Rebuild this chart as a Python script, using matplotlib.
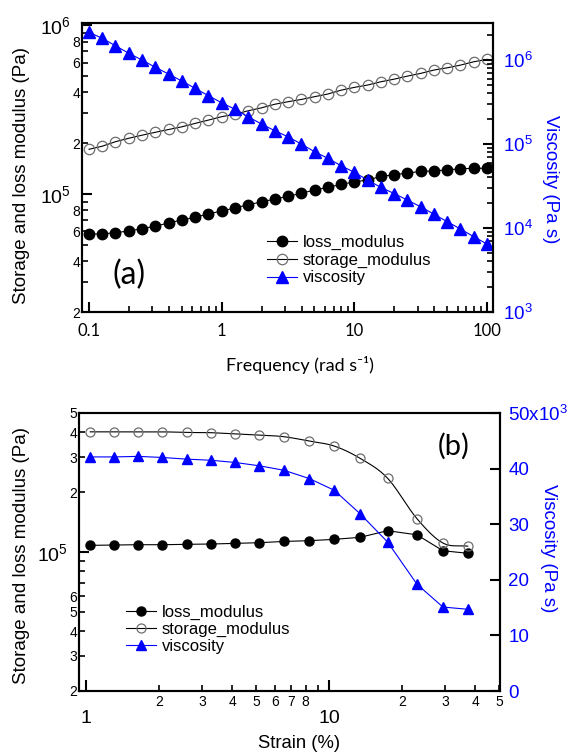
import numpy as np
import matplotlib
matplotlib.use('Agg')
import matplotlib.pyplot as plt

plt.rcParams['font.family'] = ['Liberation Sans', 'DejaVu Sans']
plt.rcParams['mathtext.fontset'] = 'custom'
plt.rcParams['mathtext.rm'] = 'Liberation Sans'
plt.rcParams['mathtext.it'] = 'Liberation Sans:italic'
plt.rcParams['mathtext.bf'] = 'Liberation Sans:bold'

# ---------------- data: panel (a) ----------------
freq = [0.1, 0.126, 0.158, 0.2, 0.251, 0.316, 0.398, 0.501, 0.631, 0.794,
        1.0, 1.26, 1.58, 2.0, 2.51, 3.16, 3.98, 5.01, 6.31, 7.94,
        10.0, 12.6, 15.8, 20.0, 25.1, 31.6, 39.8, 50.1, 63.1, 79.4, 100.0]
loss_a = [58.0e3, 58.0e3, 59.0e3, 60.4e3, 62.3e3, 64.4e3, 67.4e3, 70.2e3, 72.8e3, 76.2e3,
          79.3e3, 82.6e3, 86.4e3, 89.7e3, 93.4e3, 96.8e3, 101e3, 105.6e3, 109.5e3, 114e3,
          118e3, 121e3, 127e3, 130e3, 133e3, 136e3, 137e3, 139e3, 141e3, 142e3, 142e3]
storage_a = [184e3, 192e3, 204e3, 214e3, 223e3, 232e3, 241e3, 250e3, 262e3, 274e3,
             287e3, 297e3, 311e3, 324e3, 340e3, 352e3, 363e3, 377e3, 391e3, 412e3,
             428e3, 442e3, 462e3, 479e3, 499e3, 518e3, 542e3, 559e3, 580e3, 607e3, 627e3]
visc_a = [2.14e6, 1.81e6, 1.48e6, 1.20e6, 1.00e6, 8.19e5, 6.81e5, 5.62e5, 4.60e5, 3.76e5,
          3.10e5, 2.59e5, 2.11e5, 1.73e5, 1.44e5, 1.22e5, 1.00e5, 8.1e4, 6.76e4, 5.52e4,
          4.60e4, 3.73e4, 3.05e4, 2.57e4, 2.15e4, 1.79e4, 1.46e4, 1.19e4, 9.73e3, 7.88e3, 6.45e3]

# ---------------- data: panel (b) ----------------
strain = [1.04, 1.30, 1.64, 2.06, 2.60, 3.27, 4.11, 5.17, 6.52, 8.30,
          10.5, 13.4, 17.4, 23.0, 29.4, 37.2]
loss_b = [108.0e3, 108.4e3, 108.8e3, 108.8e3, 109.3e3, 109.7e3, 110.5e3, 111.4e3, 113.0e3, 114.0e3,
          115.8e3, 118.5e3, 128.0e3, 122.0e3, 101.5e3, 98.5e3]
storage_b = [402e3, 402e3, 402e3, 402e3, 399e3, 398e3, 392e3, 387e3, 380e3, 361e3,
             341e3, 296e3, 235e3, 147e3, 111e3, 107e3]
visc_b = [42.1e3, 42.1e3, 42.2e3, 42.0e3, 41.7e3, 41.5e3, 41.1e3, 40.5e3, 39.7e3, 38.2e3,
          36.1e3, 31.9e3, 26.8e3, 19.2e3, 15.1e3, 14.7e3]

series_names = ['loss_modulus', 'storage_modulus', 'viscosity']

BLUE = '#0000ff'
GREY = '#6e6e6e'
CAL = ['Lato', 'DejaVu Sans']


def catmull_rom_loglog(x, y, n=16):
    P = np.column_stack([np.log10(x), np.log10(y)])
    P = np.vstack([2 * P[0] - P[1], P, 2 * P[-1] - P[-2]])
    t = np.linspace(0, 1, n, endpoint=False)[:, None]
    out = []
    for i in range(1, len(P) - 2):
        p0, p1, p2, p3 = P[i - 1], P[i], P[i + 1], P[i + 2]
        seg = 0.5 * (2 * p1 + (-p0 + p2) * t + (2 * p0 - 5 * p1 + 4 * p2 - p3) * t ** 2
                     + (-p0 + 3 * p1 - 3 * p2 + p3) * t ** 3)
        out.append(seg)
    out.append(P[-2][None, :])
    arr = np.vstack(out)
    return 10 ** arr[:, 0], 10 ** arr[:, 1]


def style_axes(ax):
    for s in ax.spines.values():
        s.set_linewidth(1.5)


fig = plt.figure(figsize=(5.68, 7.53), dpi=100)

# ================= panel (a) =================
axa = fig.add_axes([82 / 568, 1 - 312 / 753, 411 / 568, 289 / 753])
axa.set_xscale('log')
axa.set_yscale('log')
axa.set_xlim(0.0885, 111)
axa.set_ylim(2e4, 1.03e6)
style_axes(axa)
ha1, = axa.plot(freq, loss_a, '-o', color='black', lw=0.8, ms=7.5, label=series_names[0])
ha2, = axa.plot(freq, storage_a, '-', color='black', lw=0.8, marker='o', ms=7.5,
                mfc='none', mec=GREY, mew=0.9, label=series_names[1])

axa2 = axa.twinx()
axa2.set_yscale('log')
axa2.set_ylim(1e3, 2.76e6)
style_axes(axa2)
ha3, = axa2.plot(freq, visc_a, '-^', color=BLUE, lw=0.8, ms=8, label=series_names[2])

# ticks (a)
axa.set_xticks([0.1, 1, 10, 100], labels=['0.1', '1', '10', '100'], fontfamily=CAL, fontsize=12)
xm = [k * 10.0 ** d for d in (-1, 0, 1) for k in range(2, 10)]
axa.set_xticks(xm, labels=[''] * len(xm), minor=True)
axa.tick_params(axis='x', which='major', direction='in', length=7, width=1.5, pad=8)
axa.tick_params(axis='x', which='minor', direction='in', length=4, width=1.2)

axa.set_yticks([1e5, 1e6], labels=['$10^5$', '$10^6$'], fontsize=14)
ym = [k * 10.0 ** d for d in (4, 5) for k in range(2, 10)]
yml = ['2', '', '4', '', '6', '', '8', '', '2', '', '4', '', '6', '', '8', '']
axa.set_yticks(ym, labels=yml, minor=True, fontsize=10)
axa.tick_params(axis='y', which='major', direction='in', length=7, width=1.5, pad=8)
axa.tick_params(axis='y', which='minor', direction='in', length=4, width=1.2, pad=1.5)

axa2.set_yticks([1e3, 1e4, 1e5, 1e6], labels=['$10^3$', '$10^4$', '$10^5$', '$10^6$'],
                fontsize=13.5, color=BLUE)
ym2 = [k * 10.0 ** d for d in (3, 4, 5, 6) for k in range(2, 10) if k * 10.0 ** d < 2.76e6]
axa2.set_yticks(ym2, labels=[''] * len(ym2), minor=True)
axa2.tick_params(axis='y', which='major', direction='in', length=7, width=1.5, pad=7,
                 labelcolor=BLUE)
axa2.tick_params(axis='y', which='minor', direction='in', length=4, width=1.2)

axa2.legend(handles=[ha1, ha2, ha3], loc='upper left', bbox_to_anchor=(0.45, 0.266),
            frameon=False, fontsize=12, borderpad=0, borderaxespad=0, handlelength=1.8,
            handletextpad=0.35, labelspacing=0.15)
axa2.text(0.114, 0.128, '(a)', transform=axa2.transAxes, ha='center', va='center',
          fontsize=23, fontfamily=CAL)

fig.text(22 / 568, 1 - 176 / 753, 'Storage and loss modulus (Pa)', rotation=90,
         ha='center', va='center', fontsize=13.5)
fig.text(550 / 568, 1 - 179 / 753, 'Viscosity (Pa s)', rotation=270,
         ha='center', va='center', fontsize=13.5, color=BLUE)
fig.text(300 / 568, 1 - 365 / 753, 'Frequency (rad s\u207b\u00b9)',
         ha='center', va='center', fontsize=13, fontfamily=CAL)

# ================= panel (b) =================
axb = fig.add_axes([79 / 568, 1 - 691 / 753, 421 / 568, 278 / 753])
axb.set_xscale('log')
axb.set_yscale('log')
axb.set_xlim(0.935, 50.5)
axb.set_ylim(2e4, 5e5)
style_axes(axb)
hb1, = axb.plot(strain, loss_b, '-o', color='black', lw=0.8, ms=6.5, label=series_names[0])
sx, sy = catmull_rom_loglog(strain, storage_b)
axb.plot(sx, sy, '-', color='black', lw=0.8)
axb.plot(strain, storage_b, 'o', ms=6.5, mfc='none', mec=GREY, mew=0.9)
hb2, = axb.plot([], [], '-', color='black', lw=0.8, marker='o', ms=6.5, mfc='none',
                mec=GREY, mew=0.9, label=series_names[1])

axb2 = axb.twinx()
axb2.set_ylim(0, 50e3)
style_axes(axb2)
hb3, = axb2.plot(strain, visc_b, '-^', color=BLUE, lw=0.8, ms=7, label=series_names[2])

axb.set_xticks([1, 10], labels=['1', '10'], fontsize=14)
xbm = [2, 3, 4, 5, 6, 7, 8, 9, 20, 30, 40, 50]
xbl = ['2', '3', '4', '5', '6', '7', '8', '', '2', '3', '4', '5']
axb.set_xticks(xbm, labels=xbl, minor=True, fontsize=10)
axb.tick_params(axis='x', which='major', direction='in', length=8, width=1.5, pad=14)
axb.tick_params(axis='x', which='minor', direction='in', length=4, width=1.2, pad=3)

axb.set_yticks([1e5], labels=['$10^5$'], fontsize=14)
ybm = [2e4, 3e4, 4e4, 5e4, 6e4, 7e4, 8e4, 9e4, 2e5, 3e5, 4e5, 5e5]
ybl = ['2', '3', '4', '5', '6', '', '', '', '2', '3', '4', '5']
axb.set_yticks(ybm, labels=ybl, minor=True, fontsize=10)
axb.tick_params(axis='y', which='major', direction='in', length=7, width=1.5, pad=8)
axb.tick_params(axis='y', which='minor', direction='in', length=4, width=1.2, pad=1.5)

axb2.set_yticks([0, 10e3, 20e3, 30e3, 40e3, 50e3],
                labels=['0', '10', '20', '30', '40', '50x10$^3$'], fontsize=13.5)
axb2.tick_params(axis='y', which='major', direction='in', length=7, width=1.5, pad=6,
                 labelcolor=BLUE)

axb2.legend(handles=[hb1, hb2, hb3], loc='upper left', bbox_to_anchor=(0.112, 0.311),
            frameon=False, fontsize=12, borderpad=0, borderaxespad=0, handlelength=1.8,
            handletextpad=0.35, labelspacing=0.12)
axb2.text(0.891, 0.881, '(b)', transform=axb2.transAxes, ha='center', va='center',
          fontsize=21, fontfamily=CAL)

fig.text(22 / 568, 1 - 556 / 753, 'Storage and loss modulus (Pa)', rotation=90,
         ha='center', va='center', fontsize=13.5)
fig.text(548 / 568, 1 - 548 / 753, 'Viscosity (Pa s)', rotation=270,
         ha='center', va='center', fontsize=13.5, color=BLUE)
fig.text(299 / 568, 1 - 743 / 753, 'Strain (%)', ha='center', va='center', fontsize=13.3)

fig.savefig('out.png', dpi=100)
